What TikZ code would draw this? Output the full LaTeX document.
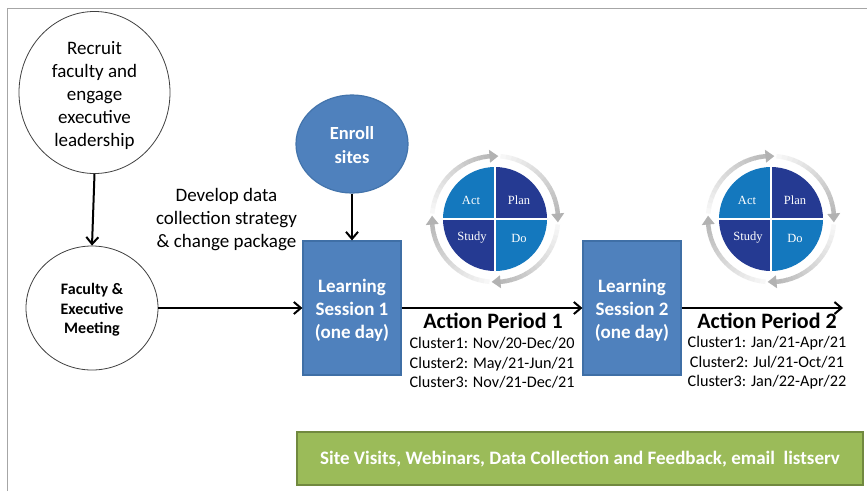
\documentclass[tikz,border=0pt]{standalone}
\usepackage{fontspec}
\setmainfont{Carlito}
\newfontfamily\pdcafont{Liberation Serif}
\usetikzlibrary{arrows.meta,shapes.geometric}
\definecolor{boxblue}{HTML}{4F81BD}
\definecolor{boxedge}{HTML}{3F6FA6}
\definecolor{enrolledge}{HTML}{4374AC}
\definecolor{greenfill}{HTML}{9BBB59}
\definecolor{greenedge}{HTML}{71893F}
\definecolor{pdcalight}{HTML}{1478BE}
\definecolor{pdcadark}{HTML}{253A92}
\tikzset{
  x=1pt,y=-1pt,
  flow/.style={line width=2pt,black,-{Straight Barb[length=7pt,width=12pt,line width=2pt]}},
  bigcircle/.style={ellipse,draw=black!75,line width=0.8pt,fill=white,inner sep=0pt,align=center},
  session/.style={rectangle,draw=boxedge,line width=1.2pt,fill=boxblue,text=white,inner sep=0pt,minimum width=98pt,minimum height=134pt,align=center,font=\fontsize{19}{23}\selectfont\bfseries},
  plain/.style={inner sep=0pt,align=center,text=black},
  period/.style={plain,font=\fontsize{22}{24}\selectfont\bfseries},
  dates/.style={plain,font=\fontsize{16.2}{19.6}\selectfont},
  pdcalabel/.style={inner sep=0pt,text=white,font=\fontsize{12.5}{14}\pdcafont},
  pdcapic/.pic={
    \begin{scope}[y=1pt]
    \fill[pdcadark] (0,0) -- (0,52) arc[start angle=90,end angle=0,radius=52] -- cycle;
    \fill[pdcalight] (0,0) -- (52,0) arc[start angle=0,end angle=-90,radius=52] -- cycle;
    \fill[pdcadark] (0,0) -- (0,-52) arc[start angle=-90,end angle=-180,radius=52] -- cycle;
    \fill[pdcalight] (0,0) -- (-52,0) arc[start angle=180,end angle=90,radius=52] -- cycle;
    \draw[white,line width=1.2pt] (-52,0) -- (52,0) (0,-52) -- (0,52);
    \node[pdcalabel] at (-24,19) {Act};
    \node[pdcalabel] at (24,19) {Plan};
    \node[pdcalabel] at (-23,-19) {Study};
    \node[pdcalabel] at (24,-19) {Do};
    \foreach \s in {90,0,-90,-180}{
      \foreach \i in {0,...,15}{
        \pgfmathsetmacro\a{\s+85-\i*5}
        \pgfmathsetmacro\b{\a-5.5}
        \pgfmathsetmacro\g{0.97-\i*0.016}
        \definecolor{ringc}{gray}{\g}
        \draw[ringc,line width=4.5pt] ({63*cos(\a)},{63*sin(\a)}) arc[start angle=\a,end angle=\b,radius=63];
      }
      \pgfmathsetmacro\t{\s+5}
      \fill[black!30] ({69.5*cos(\t)},{69.5*sin(\t)}) -- ({56.5*cos(\t)},{56.5*sin(\t)}) -- ({63*cos(\t-8)},{63*sin(\t-8)}) -- cycle;
    }
    \end{scope}
  }
}
\begin{document}
\begin{tikzpicture}
\useasboundingbox (0,0) rectangle (867,491);
\fill[white] (0,0) rectangle (867,491);
\draw[black!35,line width=1.2pt] (7.5,491) -- (7.5,8.5) -- (867,8.5);

\node[bigcircle,minimum width=151pt,minimum height=149pt,font=\fontsize{19}{23}\selectfont] (recruit) at (94.5,92.5) {\rule{0pt}{19.5pt}Recruit\\faculty and\\engage\\executive\\leadership};
\node[bigcircle,minimum width=132pt,minimum height=124pt,font=\fontsize{16}{19.5}\selectfont\bfseries] (meeting) at (92,308) {\rule{0pt}{15.5pt}Faculty \&\\Executive\\Meeting};
\node[ellipse,draw=enrolledge,line width=1.2pt,fill=boxblue,text=white,inner sep=0pt,minimum width=112pt,minimum height=98pt,align=center,font=\fontsize{18.5}{24}\selectfont\bfseries] (enroll) at (352,144) {\rule{0pt}{15pt}Enroll\\sites};
\node[session] (ls1) at (352,308) {\rule{0pt}{17pt}Learning\\Session 1\\(one day)};
\node[session] (ls2) at (632,308) {\rule{0pt}{17pt}Learning\\Session 2\\(one day)};
\coordinate (end) at (843,308);

\node[plain,font=\fontsize{19}{23}\selectfont] (strategy) at (226.5,220) {Develop data\\collection strategy\\\& change package};

\pic at (495,219) {pdcapic};
\pic at (771,219) {pdcapic};

\draw[flow] (recruit.south) -- (meeting.north);
\draw[flow] (meeting.east) -- (ls1.west);
\draw[flow] (enroll.south) -- (ls1.north);
\draw[flow] (ls1.east) -- (ls2.west);
\draw[flow] (ls2.east) -- (end);

\node[period] (ap1) at (493,321) {Action Period 1};
\node[dates] (d1) at (492,363) {Cluster1: Nov/20-Dec/20\\Cluster2: May/21-Jun/21\\Cluster3: Nov/21-Dec/21};
\node[period] (ap2) at (767,321) {Action Period 2};
\node[dates] (d2) at (767,363) {Cluster1: Jan/21-Apr/21\\Cluster2: Jul/21-Oct/21\\Cluster3: Jan/22-Apr/22};

\node[rectangle,draw=greenedge,line width=1.4pt,fill=greenfill,text=white,inner sep=0pt,minimum width=566pt,minimum height=53pt,font=\fontsize{19}{21}\selectfont\bfseries] (support) at (580,458.5) {\rule{0pt}{15pt}Site Visits, Webinars, Data Collection and Feedback, email\ \ listserv};
\end{tikzpicture}
\end{document}
